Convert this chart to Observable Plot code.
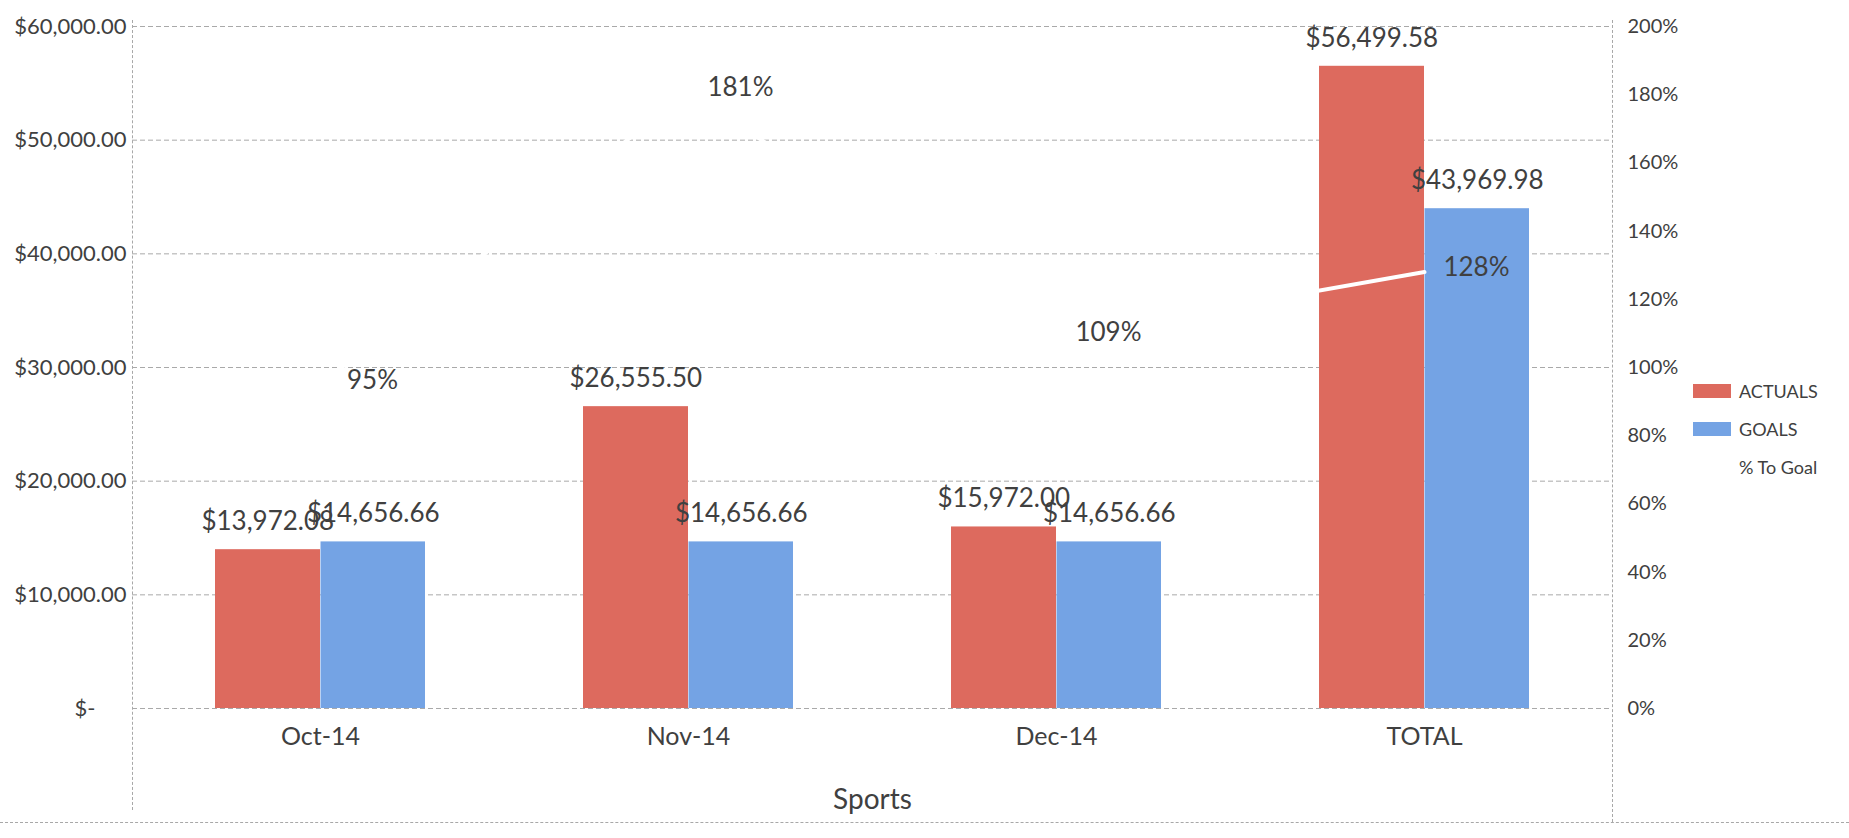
<!DOCTYPE html>
<html>
<head>
<meta charset="utf-8">
<script src="https://cdn.jsdelivr.net/npm/d3@7"></script>
<script src="https://cdn.jsdelivr.net/npm/@observablehq/plot@0.6"></script>
<style>
  html, body { margin: 0; padding: 0; background: #fff; }
  #wrap { position: relative; width: 1849px; height: 838px; overflow: hidden; font-family: Lato, "Open Sans", sans-serif; color: #404040; }
  #chart { position: absolute; left: 0; top: 0; }
  .legend { position: absolute; left: 1693px; top: 372px; font-size: 18px; }
  .legend .row { display: flex; align-items: center; height: 38px; }
  .legend .sw { width: 38px; height: 14px; margin-right: 8px; }
  .vline { position: absolute; border-left: 1px dashed #a8a8a8; width: 0; }
  .hline { position: absolute; border-top: 1px dashed #a8a8a8; height: 0; }
</style>
</head>
<body>
<div id="wrap">
  <div id="chart"></div>
  <div class="vline" style="left:132px; top:20px; height:790px;"></div>
  <div class="vline" style="left:1612px; top:20px; height:802px;"></div>
  <div class="hline" style="left:0px; top:822px; width:1849px;"></div>
  <div class="legend">
    <div class="row"><div class="sw" style="background:#dd6a5e"></div><span>ACTUALS</span></div>
    <div class="row"><div class="sw" style="background:#74a3e4"></div><span>GOALS</span></div>
    <div class="row"><div class="sw" style="background:#ffffff"></div><span>% To Goal</span></div>
  </div>
</div>
<script>
const categories = ["Oct-14", "Nov-14", "Dec-14", "TOTAL"];
const actuals = [13972.08, 26555.50, 15972.00, 56499.58];
const goals = [14656.66, 14656.66, 14656.66, 43969.98];
const pctToGoal = [95, 181, 109, 128];
const leftTickValues = [0, 10000, 20000, 30000, 40000, 50000, 60000];
const leftTickLabels = ["$-\u2007\u2007\u00A0", "$10,000.00", "$20,000.00", "$30,000.00", "$40,000.00", "$50,000.00", "$60,000.00"];
const rightTickPct = [0, 20, 40, 60, 80, 100, 120, 140, 160, 180, 200];
const rightTickLabels = ["0%", "20%", "40%", "60%", "80%", "100%", "120%", "140%", "160%", "180%", "200%"];

const RED = "#dd6a5e", BLUE = "#74a3e4", INK = "#404040";
const W = 1849, H = 838, mL = 132, mR = 237, mT = 26, mB = 130;
const pIn = 0.428, pOut = 0.22;
const step = (W - mL - mR) / (categories.length - pIn + 2 * pOut);
const half = step * (1 - pIn) / 2;
const pctFactor = 60000 / 200; // secondary axis: 200% at top of primary axis

const rows = categories.map((c, i) => ({cat: c, actual: actuals[i], goal: goals[i], pct: pctToGoal[i]}));
const leftLabel = new Map(leftTickValues.map((v, i) => [v, leftTickLabels[i]]));
const rightLabel = new Map(rightTickPct.map((p, i) => [p * pctFactor, rightTickLabels[i]]));
const fmt = d3.format("$,.2f");

const chart = Plot.plot({
  width: W, height: H,
  marginLeft: mL, marginRight: mR, marginTop: mT, marginBottom: mB,
  style: {fontFamily: "Lato, 'Open Sans', sans-serif", color: INK, background: "transparent", overflow: "visible"},
  x: {domain: categories, paddingInner: pIn, paddingOuter: pOut, axis: null},
  y: {domain: [0, 60000], axis: null},
  marks: [
    Plot.ruleY(leftTickValues, {stroke: "#9a9a9a", strokeDasharray: "5,3", strokeOpacity: 0.85}),
    Plot.barY(rows, {x: "cat", y: "actual", fill: RED, insetRight: half - 0.5}),
    Plot.barY(rows, {x: "cat", y: "goal", fill: BLUE, insetLeft: half}),
    Plot.line(rows, {x: "cat", y: d => d.pct * pctFactor, stroke: "white", strokeWidth: 4}),
    Plot.text(rows, {x: "cat", y: "actual", text: d => fmt(d.actual), dx: -half / 2, dy: -28, fontSize: 26, fill: INK}),
    Plot.text(rows, {x: "cat", y: "goal", text: d => fmt(d.goal), dx: half / 2, dy: -28, fontSize: 26, fill: INK}),
    Plot.text(rows, {x: "cat", y: d => d.pct * pctFactor, text: d => d.pct + "%", dx: 52, dy: -4, fontSize: 26, fill: INK}),
    Plot.axisY(leftTickValues, {anchor: "left", tickSize: 0, tickPadding: 6, tickFormat: d => leftLabel.get(d), fontSize: 22, fill: INK}),
    Plot.axisY(rightTickPct.map(p => p * pctFactor), {anchor: "right", tickSize: 0, tickPadding: 15, tickFormat: d => rightLabel.get(d), fontSize: 20, fill: INK, textAnchor: "start"}),
    Plot.axisX({tickSize: 0, tickPadding: 19, fontSize: 25, fill: INK, label: null}),
    Plot.text(["Sports"], {frameAnchor: "bottom", dy: 100, text: d => d, fontSize: 28, fill: INK})
  ]
});
document.getElementById("chart").appendChild(chart);
</script>
</body>
</html>
